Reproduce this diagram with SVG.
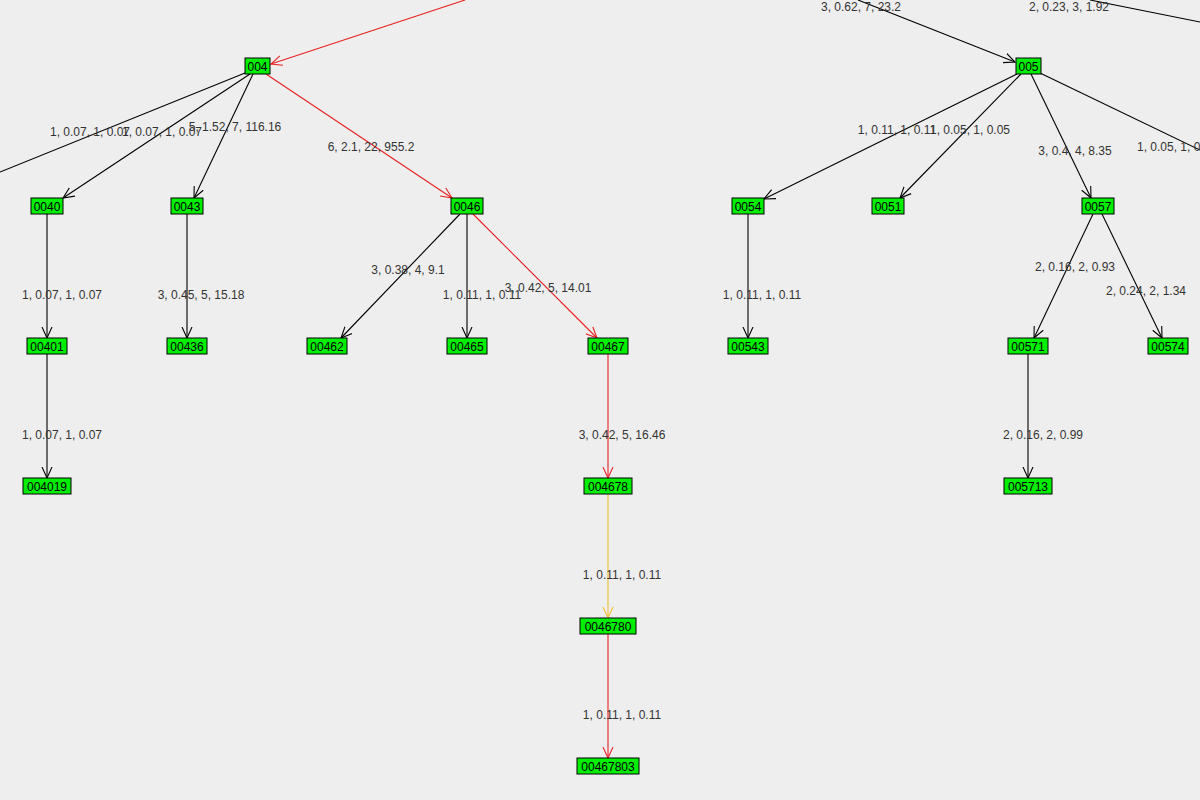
<svg xmlns="http://www.w3.org/2000/svg" width="1200" height="800" viewBox="0 0 1200 800">
<style>
.n rect{fill:#00ee00;stroke:#000;stroke-width:1}
.n text{font-family:"Liberation Sans",Arial,sans-serif;font-size:12px;fill:#000;text-anchor:middle}
.e line{stroke:#000;stroke-width:1.1}
.e line.r{stroke:#e82222}
.e line.y{stroke:#f0c030}
.l{font-family:"Liberation Sans",Arial,sans-serif;font-size:12px;fill:#333;text-anchor:middle}
</style>
<defs>
<marker id="a" viewBox="0 0 12 12" refX="11" refY="6" markerWidth="12" markerHeight="12" markerUnits="userSpaceOnUse" orient="auto"><path d="M0,1 L11,6 L0,11" fill="none" stroke="#000" stroke-width="1.1"/></marker>
<marker id="ar" viewBox="0 0 12 12" refX="11" refY="6" markerWidth="12" markerHeight="12" markerUnits="userSpaceOnUse" orient="auto"><path d="M0,1 L11,6 L0,11" fill="none" stroke="#e82222" stroke-width="1.1"/></marker>
<marker id="ay" viewBox="0 0 12 12" refX="11" refY="6" markerWidth="12" markerHeight="12" markerUnits="userSpaceOnUse" orient="auto"><path d="M0,1 L11,6 L0,11" fill="none" stroke="#f0c030" stroke-width="1.1"/></marker>
</defs>
<rect width="1200" height="800" fill="#eeeeee"/>
<g id="connectors" class="e">
<line class="r" x1="465" y1="0" x2="271" y2="64" marker-end="url(#ar)"/>
<line x1="858" y1="0" x2="1015" y2="62" marker-end="url(#a)"/>
<line x1="1090" y1="0" x2="1200" y2="22"/>
<line x1="245" y1="73" x2="0" y2="172"/>
<line x1="250" y1="74" x2="63" y2="198" marker-end="url(#a)"/>
<line x1="253" y1="74" x2="194" y2="198" marker-end="url(#a)"/>
<line class="r" x1="266" y1="74" x2="452" y2="198" marker-end="url(#ar)"/>
<line x1="47" y1="214" x2="47" y2="338" marker-end="url(#a)"/>
<line x1="187" y1="214" x2="187" y2="338" marker-end="url(#a)"/>
<line x1="460" y1="214" x2="341" y2="338" marker-end="url(#a)"/>
<line x1="467" y1="214" x2="467" y2="338" marker-end="url(#a)"/>
<line class="r" x1="473" y1="214" x2="597" y2="338" marker-end="url(#ar)"/>
<line x1="47" y1="354" x2="47" y2="478" marker-end="url(#a)"/>
<line class="r" x1="608" y1="354" x2="608" y2="478" marker-end="url(#ar)"/>
<line class="y" x1="608" y1="494" x2="608" y2="618" marker-end="url(#ay)"/>
<line class="r" x1="608" y1="634" x2="608" y2="758" marker-end="url(#ar)"/>
<line x1="1017" y1="74" x2="764" y2="199" marker-end="url(#a)"/>
<line x1="1021" y1="74" x2="900" y2="198" marker-end="url(#a)"/>
<line x1="1031" y1="74" x2="1091" y2="198" marker-end="url(#a)"/>
<line x1="1040" y1="73" x2="1200" y2="150"/>
<line x1="748" y1="214" x2="748" y2="338" marker-end="url(#a)"/>
<line x1="1093" y1="214" x2="1034" y2="338" marker-end="url(#a)"/>
<line x1="1102" y1="214" x2="1162" y2="338" marker-end="url(#a)"/>
<line x1="1028" y1="354" x2="1028" y2="478" marker-end="url(#a)"/>
</g>
<g id="labels">
<text class="l" x="861" y="11">3, 0.62, 7, 23.2</text>
<text class="l" x="1069" y="11">2, 0.23, 3, 1.92</text>
<text class="l" x="90" y="136">1, 0.07, 1, 0.07</text>
<text class="l" x="162" y="136">1, 0.07, 1, 0.07</text>
<text class="l" x="235" y="131">5, 1.52, 7, 116.16</text>
<text class="l" x="371" y="151">6, 2.1, 22, 955.2</text>
<text class="l" x="62" y="299">1, 0.07, 1, 0.07</text>
<text class="l" x="201" y="299">3, 0.45, 5, 15.18</text>
<text class="l" x="408" y="274">3, 0.38, 4, 9.1</text>
<text class="l" x="482" y="299">1, 0.11, 1, 0.11</text>
<text class="l" x="548" y="292">3, 0.42, 5, 14.01</text>
<text class="l" x="62" y="439">1, 0.07, 1, 0.07</text>
<text class="l" x="622" y="439">3, 0.42, 5, 16.46</text>
<text class="l" x="622" y="579">1, 0.11, 1, 0.11</text>
<text class="l" x="622" y="719">1, 0.11, 1, 0.11</text>
<text class="l" x="897" y="134">1, 0.11, 1, 0.11</text>
<text class="l" x="970" y="134">1, 0.05, 1, 0.05</text>
<text class="l" x="1075" y="155">3, 0.4, 4, 8.35</text>
<text class="l" x="1177" y="151">1, 0.05, 1, 0.05</text>
<text class="l" x="762" y="299">1, 0.11, 1, 0.11</text>
<text class="l" x="1075" y="271">2, 0.16, 2, 0.93</text>
<text class="l" x="1146" y="295">2, 0.24, 2, 1.34</text>
<text class="l" x="1043" y="439">2, 0.16, 2, 0.99</text>
</g>
<g id="n004" class="n"><rect x="245" y="58" width="25" height="16"/><text x="257.5" y="71">004</text></g>
<g id="n005" class="n"><rect x="1016" y="58" width="25" height="16"/><text x="1028.5" y="71">005</text></g>
<g id="n0040" class="n"><rect x="31" y="198" width="32" height="16"/><text x="47" y="211">0040</text></g>
<g id="n0043" class="n"><rect x="171" y="198" width="32" height="16"/><text x="187" y="211">0043</text></g>
<g id="n0046" class="n"><rect x="451" y="198" width="32" height="16"/><text x="467" y="211">0046</text></g>
<g id="n0054" class="n"><rect x="732" y="198" width="32" height="16"/><text x="748" y="211">0054</text></g>
<g id="n0051" class="n"><rect x="872" y="198" width="32" height="16"/><text x="888" y="211">0051</text></g>
<g id="n0057" class="n"><rect x="1082" y="198" width="32" height="16"/><text x="1098" y="211">0057</text></g>
<g id="n00401" class="n"><rect x="27" y="338" width="40" height="16"/><text x="47" y="351">00401</text></g>
<g id="n00436" class="n"><rect x="167" y="338" width="40" height="16"/><text x="187" y="351">00436</text></g>
<g id="n00462" class="n"><rect x="307" y="338" width="40" height="16"/><text x="327" y="351">00462</text></g>
<g id="n00465" class="n"><rect x="447" y="338" width="40" height="16"/><text x="467" y="351">00465</text></g>
<g id="n00467" class="n"><rect x="588" y="338" width="40" height="16"/><text x="608" y="351">00467</text></g>
<g id="n00543" class="n"><rect x="728" y="338" width="40" height="16"/><text x="748" y="351">00543</text></g>
<g id="n00571" class="n"><rect x="1008" y="338" width="40" height="16"/><text x="1028" y="351">00571</text></g>
<g id="n00574" class="n"><rect x="1148" y="338" width="40" height="16"/><text x="1168" y="351">00574</text></g>
<g id="n004019" class="n"><rect x="23" y="478" width="48" height="16"/><text x="47" y="491">004019</text></g>
<g id="n004678" class="n"><rect x="584" y="478" width="48" height="16"/><text x="608" y="491">004678</text></g>
<g id="n005713" class="n"><rect x="1004" y="478" width="48" height="16"/><text x="1028" y="491">005713</text></g>
<g id="n0046780" class="n"><rect x="580" y="618" width="56" height="16"/><text x="608" y="631">0046780</text></g>
<g id="n00467803" class="n"><rect x="577" y="758" width="62" height="16"/><text x="608" y="771">00467803</text></g>
</svg>
